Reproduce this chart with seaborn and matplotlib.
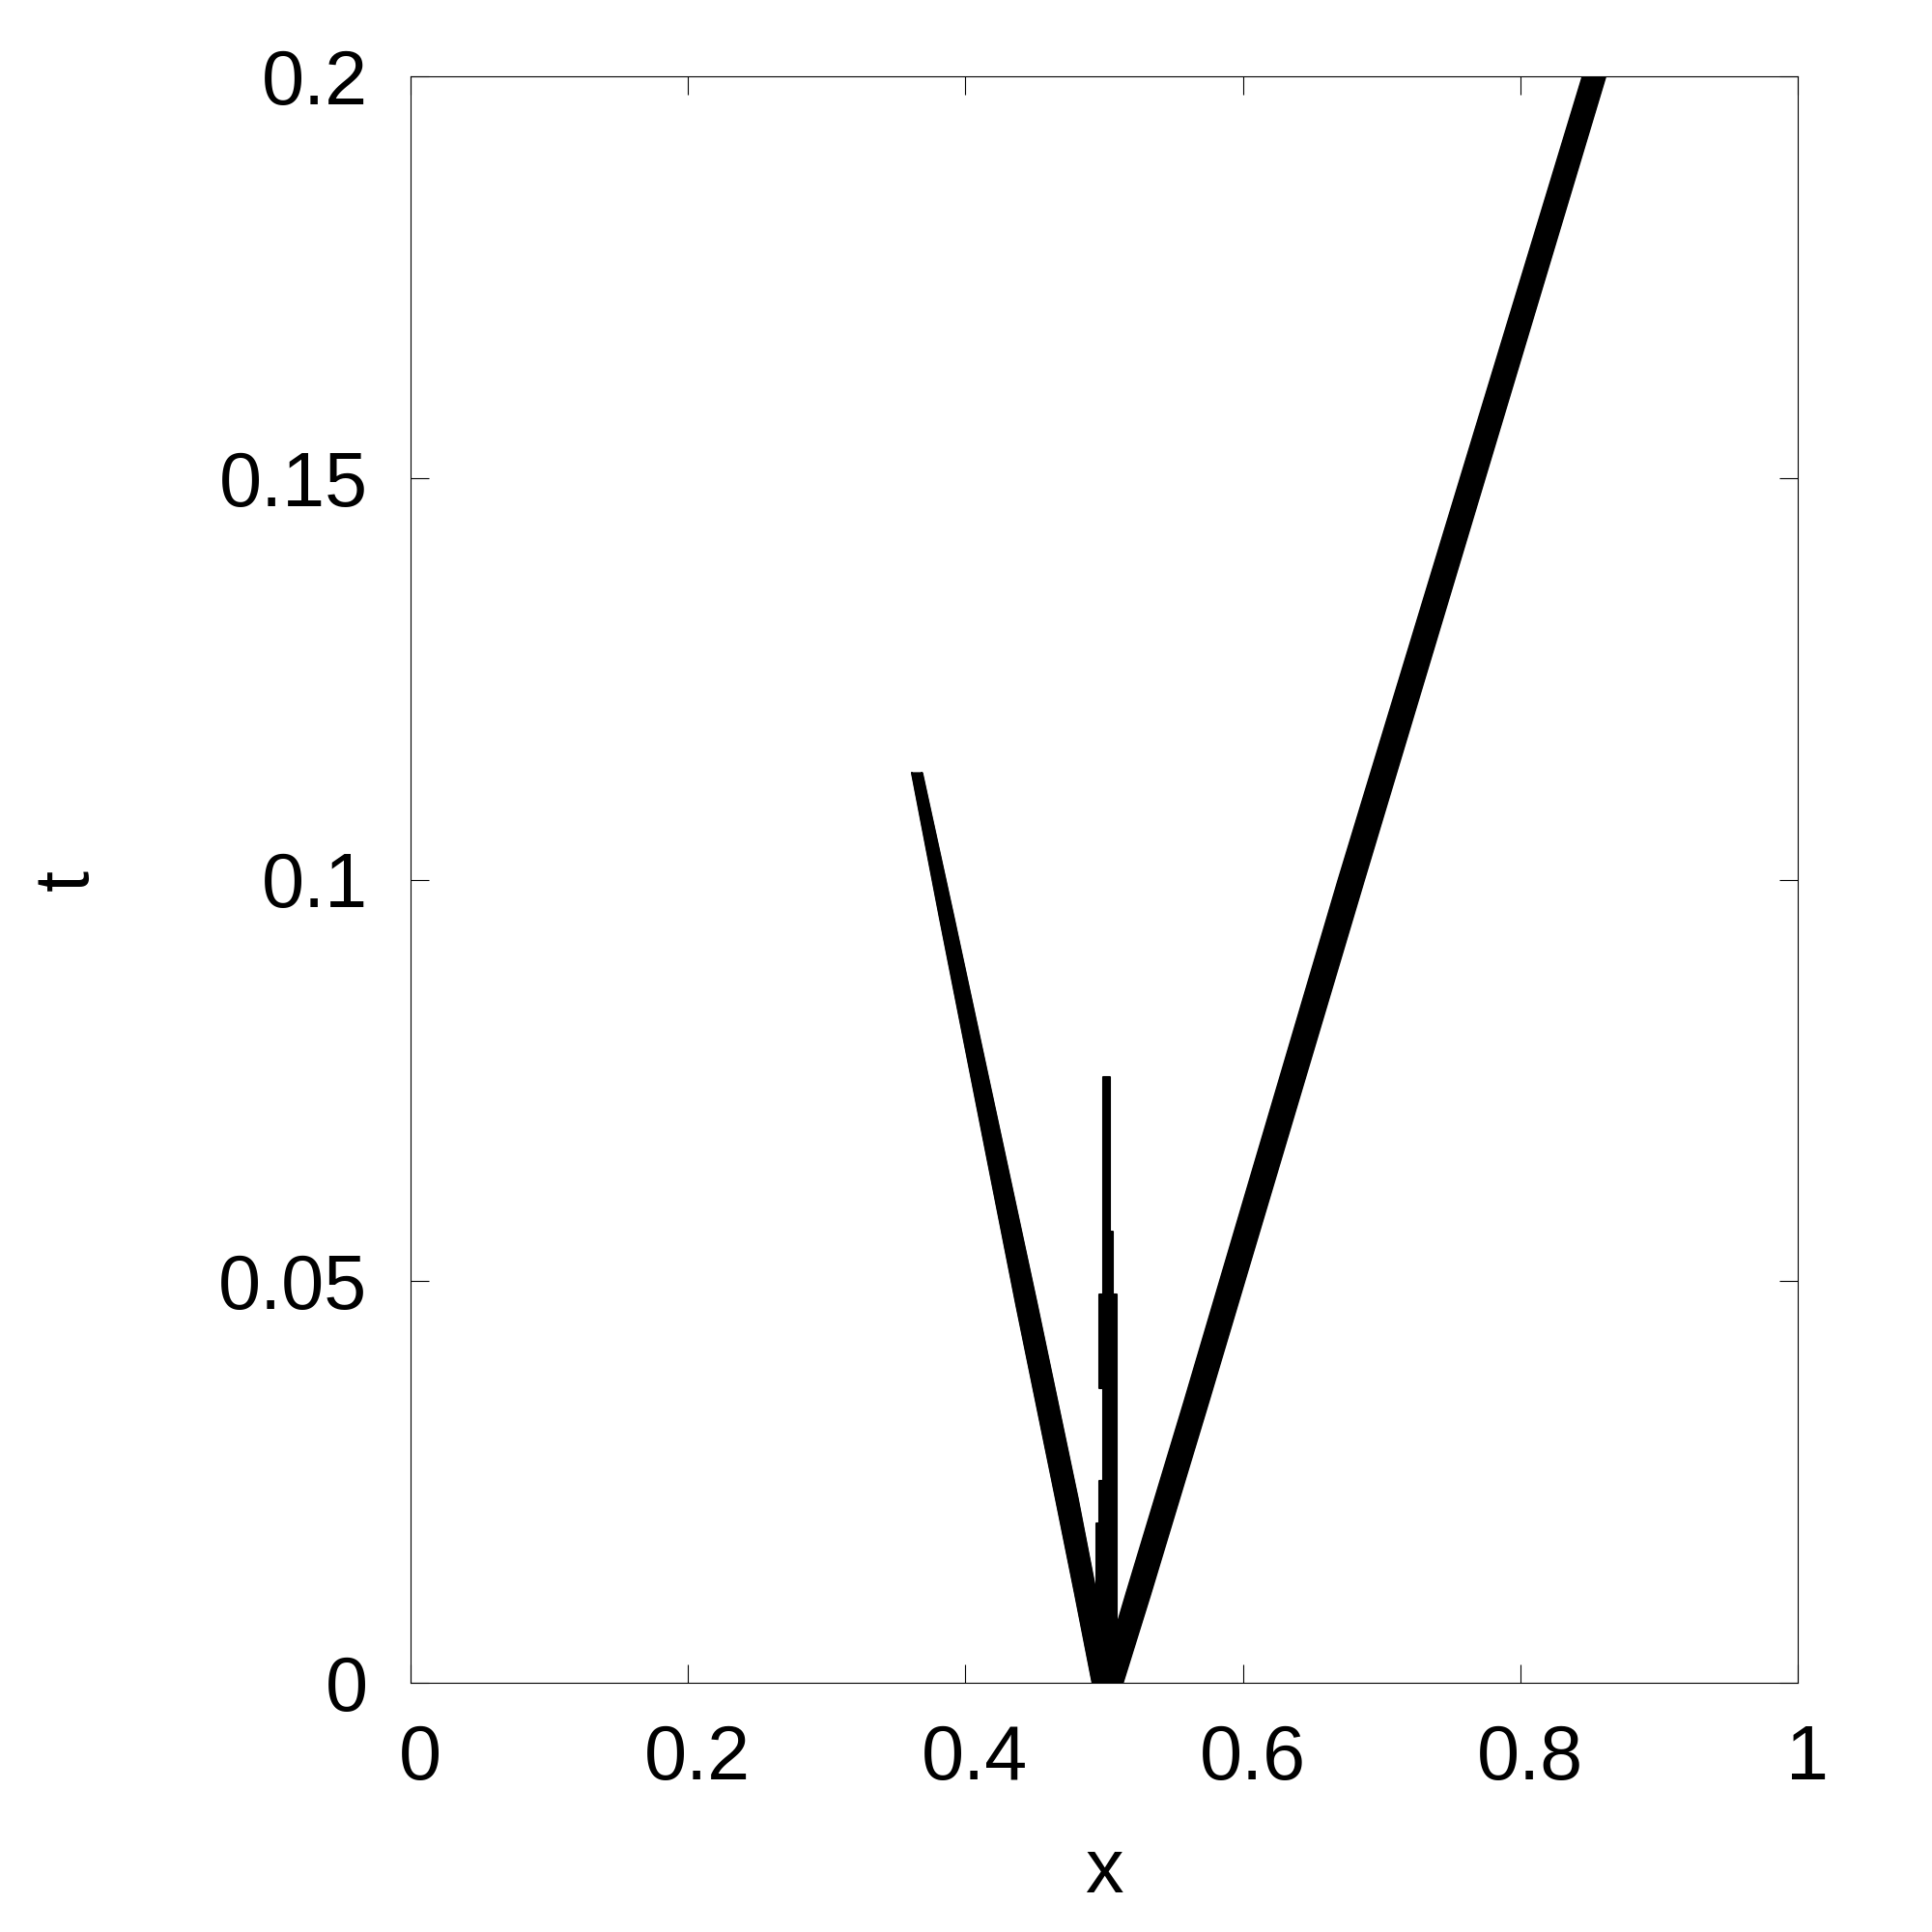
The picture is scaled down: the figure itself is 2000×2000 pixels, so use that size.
import pandas as pd
import seaborn as sns
import matplotlib.pyplot as plt
import matplotlib.transforms as mtransforms

# 左側の波（t と x の帯の両端）
left_t = [0.0, 0.0111, 0.0231, 0.0471, 0.0952, 0.1133]
left_lo = [0.4916, 0.479, 0.465, 0.4366, 0.3816, 0.3614]
left_hi = [0.5091, 0.494, 0.4805, 0.4513, 0.3914, 0.3685]

# 右側の波
right_t = [0.0, 0.0111, 0.0351, 0.1, 0.2]
right_lo = [0.497, 0.516, 0.558, 0.669, 0.845]
right_hi = [0.513, 0.533, 0.575, 0.687, 0.861]

# 中央の接触不連続（階段状）
spike_t = [0.0, 0.0198, 0.0251, 0.0367, 0.0483, 0.0562, 0.0754]
spike_lo = [0.4944, 0.4965, 0.4993, 0.4965, 0.4993, 0.4993, 0.4993]
spike_hi = [0.5091, 0.5091, 0.5091, 0.5091, 0.5063, 0.5042, 0.5042]

x_ticks = [0, 0.2, 0.4, 0.6, 0.8, 1]
x_labels = ['0', '0.2', '0.4', '0.6', '0.8', '1']
y_ticks = [0, 0.05, 0.1, 0.15, 0.2]
y_labels = ['0', '0.05', '0.1', '0.15', '0.2']

sns.set_theme(style='white')
plt.rcParams['font.family'] = ['Liberation Sans', 'DejaVu Sans']

fig = plt.figure(figsize=(20, 20), dpi=100)
ax = fig.add_axes([0.2125, 0.129, 0.718, 0.8315])

bands = [
    (left_t, left_lo, left_hi, None),
    (right_t, right_lo, right_hi, None),
    (spike_t, spike_lo, spike_hi, 'post'),
]
for t, lo, hi, step in bands:
    ax.fill_betweenx(t, lo, hi, step=step, color='black', lw=1.5, edgecolor='black')
    if step is None:
        edges = pd.DataFrame({'t': t + t, 'x': lo + hi, 'side': ['lo'] * len(t) + ['hi'] * len(t)})
        sns.lineplot(data=edges, x='x', y='t', units='side', estimator=None,
                     orient='y', color='black', lw=1.5, ax=ax, legend=False)

ax.set_xlim(0, 1)
ax.set_ylim(0, 0.2)
ax.set_xticks(x_ticks)
ax.set_xticklabels(x_labels)
ax.set_yticks(y_ticks)
ax.set_yticklabels(y_labels)
ax.tick_params(direction='in', length=14, width=0.8, labelsize=57,
               top=True, right=True, bottom=True, left=True, colors='black')
ax.tick_params(axis='x', pad=30)
ax.tick_params(axis='y', pad=32)
for s in ax.spines.values():
    s.set_color('black')
    s.set_linewidth(0.8)

# gnuplot風に x の目盛りラベルを少し右へずらす
shift = mtransforms.ScaledTranslation(0.1, 0, fig.dpi_scale_trans)
for lab in ax.get_xticklabels():
    lab.set_transform(lab.get_transform() + shift)

ax.set_xlabel('x', fontsize=57, va='center', color='black')
ax.set_ylabel('t', fontsize=57, va='center', color='black')
ax.xaxis.set_label_coords(0.5, -0.118)
ax.yaxis.set_label_coords(-0.247, 0.5)

fig.savefig('out.png', dpi=100, facecolor='white')
